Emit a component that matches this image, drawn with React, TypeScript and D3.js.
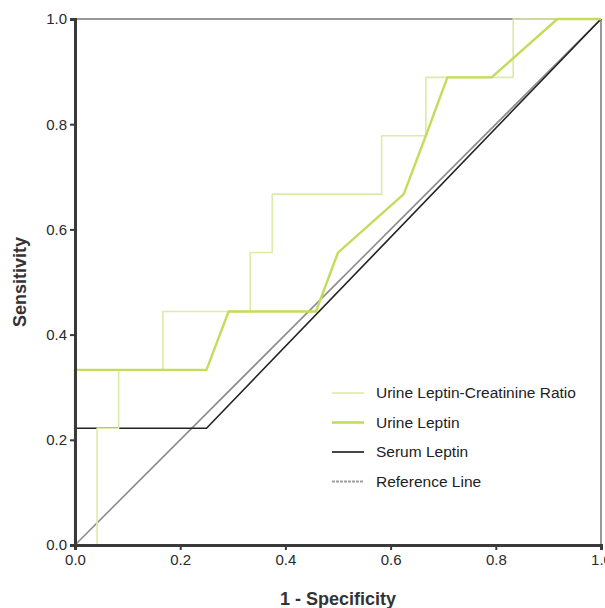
import React, { useEffect, useRef } from 'react';
import { axisBottom, axisLeft, line, scaleLinear, select } from 'd3';

// ROC points (1 - specificity, sensitivity)
const ratioFpr = [0, 0.042, 0.042, 0.083, 0.083, 0.167, 0.167, 0.333, 0.333, 0.375, 0.375, 0.583, 0.583, 0.667, 0.667, 0.833, 0.833, 1];
const ratioTpr = [0, 0, 0.222, 0.222, 0.333, 0.333, 0.444, 0.444, 0.556, 0.556, 0.667, 0.667, 0.778, 0.778, 0.889, 0.889, 1, 1];

const urineFpr = [0, 0, 0.25, 0.292, 0.458, 0.5, 0.625, 0.667, 0.708, 0.792, 0.917, 1];
const urineTpr = [0, 0.333, 0.333, 0.444, 0.444, 0.556, 0.667, 0.778, 0.889, 0.889, 1, 1];

const serumFpr = [0, 0, 0.25, 1];
const serumTpr = [0, 0.222, 0.222, 1];

const refFpr = [0, 1];
const refTpr = [0, 1];

const ticks = [0, 0.2, 0.4, 0.6, 0.8, 1.0];

const legendLabels = ['Urine Leptin-Creatinine Ratio', 'Urine Leptin', 'Serum Leptin', 'Reference Line'];

const toPoints = (xs: number[], ys: number[]) => xs.map((x, i) => [x, ys[i]] as [number, number]);

export default function App() {
    const svgRef = useRef<SVGSVGElement>(null);
    const W = 605;
    const H = 608;
    const margin = { top: 19, right: 4, bottom: 63, left: 75 };

    useEffect(() => {
        const width = W - margin.left - margin.right;
        const height = H - margin.top - margin.bottom;
        const svg = select(svgRef.current);
        svg.selectAll('*').remove();

        const chart = svg.append('g').attr('transform', `translate(${margin.left},${margin.top})`);

        const xScale = scaleLinear().domain([0, 1]).range([0, width]);
        const yScale = scaleLinear().domain([0, 1]).range([height, 0]);

        // frame (top/right lighter)
        chart.append('line').attr('x1', 0).attr('x2', width).attr('y1', 0).attr('y2', 0)
            .attr('stroke', '#777').attr('stroke-width', 1.5);
        chart.append('line').attr('x1', width).attr('x2', width).attr('y1', 0).attr('y2', height)
            .attr('stroke', '#777').attr('stroke-width', 1.5);

        const myLine = line<[number, number]>().x(d => xScale(d[0])).y(d => yScale(d[1]));

        const series = [
            { pts: toPoints(refFpr, refTpr), color: '#8c8c8c', w: 1.6 },
            { pts: toPoints(serumFpr, serumTpr), color: '#222', w: 1.6 },
            { pts: toPoints(ratioFpr, ratioTpr), color: '#dbeba8', w: 1.6 },
            { pts: toPoints(urineFpr, urineTpr), color: '#c2dd5c', w: 2.4 },
        ];

        series.forEach(s => {
            chart.append('path')
                .attr('d', myLine(s.pts))
                .attr('fill', 'none')
                .attr('stroke', s.color)
                .attr('stroke-width', s.w)
                .attr('stroke-linejoin', 'round');
        });

        // axes
        const xAxis = axisBottom(xScale).tickValues(ticks).tickSize(5).tickPadding(4).tickFormat(d => (+d).toFixed(1));
        const yAxis = axisLeft(yScale).tickValues(ticks).tickSize(5).tickPadding(3).tickFormat(d => (+d).toFixed(1));

        const styleAxis = (g: any) => {
            g.select('.domain').attr('stroke', '#3a3a3a').attr('stroke-width', 3);
            g.selectAll('.tick line').attr('stroke', '#3a3a3a').attr('stroke-width', 2);
            g.selectAll('.tick text')
                .attr('fill', '#2a2a2a')
                .style('font-family', 'Liberation Sans, Arial, sans-serif')
                .style('font-size', '15px');
        };

        chart.append('g').attr('transform', `translate(0,${height})`).call(xAxis).call(styleAxis);
        chart.append('g').call(yAxis).call(styleAxis);

        // axis titles
        svg.append('text')
            .attr('x', margin.left + width / 2)
            .attr('y', 605)
            .attr('text-anchor', 'middle')
            .attr('fill', '#333')
            .style('font-family', 'Liberation Sans, Arial, sans-serif')
            .style('font-size', '18px')
            .style('font-weight', 'bold')
            .text('1 - Specificity');

        svg.append('text')
            .attr('transform', `translate(26,${margin.top + height / 2}) rotate(-90)`)
            .attr('text-anchor', 'middle')
            .attr('fill', '#333')
            .style('font-family', 'Liberation Sans, Arial, sans-serif')
            .style('font-size', '18px')
            .style('font-weight', 'bold')
            .text('Sensitivity');

        // legend
        const legendStyles = [
            { color: '#dbeba8', w: 1.6, dash: null },
            { color: '#c2dd5c', w: 2.6, dash: null },
            { color: '#333', w: 1.8, dash: null },
            { color: '#a0a0a0', w: 1.8, dash: '3,1' },
        ];
        const legend = svg.append('g');
        legendLabels.forEach((label, i) => {
            const y = 393 + i * 29.5;
            const l = legend.append('line')
                .attr('x1', 332).attr('x2', 364).attr('y1', y).attr('y2', y)
                .attr('stroke', legendStyles[i].color)
                .attr('stroke-width', legendStyles[i].w);
            if (legendStyles[i].dash) l.attr('stroke-dasharray', legendStyles[i].dash);
            legend.append('text')
                .attr('x', 376)
                .attr('y', y)
                .attr('dy', '0.35em')
                .attr('fill', '#222')
                .style('font-family', 'Liberation Sans, Arial, sans-serif')
                .style('font-size', '15.5px')
                .text(label);
        });
    }, []);

    return (
        <svg ref={svgRef} width={W} height={H} style={{ position: 'absolute', left: 0, top: 0, background: '#fff' }} />
    );
}
